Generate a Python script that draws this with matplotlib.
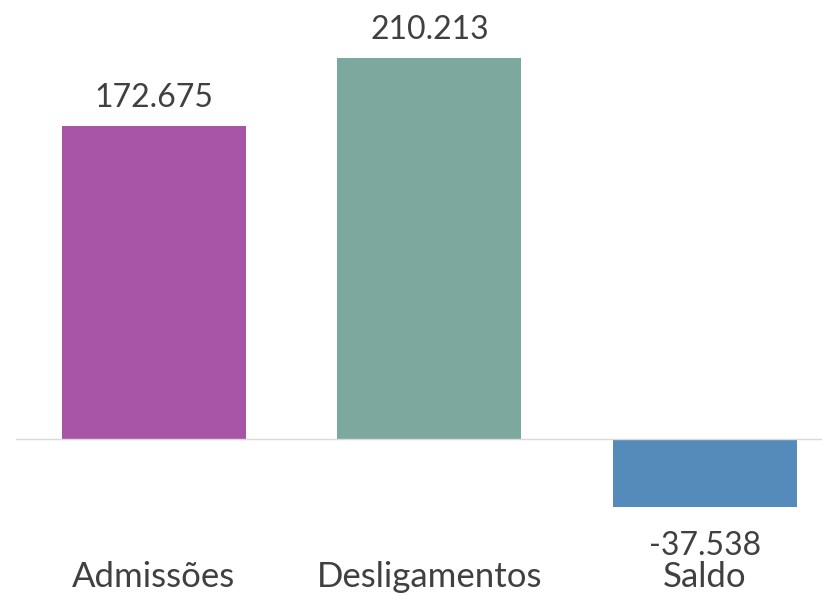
import matplotlib.pyplot as plt

categories = ["Admissões", "Desligamentos", "Saldo"]
values = [172675, 210213, -37538]
labels = ["172.675", "210.213", "-37.538"]
colors = ["#A855A8", "#7DA89D", "#548BBA"]

plt.rcParams['font.family'] = ['Lato', 'DejaVu Sans']

fig = plt.figure(figsize=(8.22, 5.95), dpi=100)
ax = fig.add_axes([16 / 822, 60 / 595, 806 / 822, 535 / 595])

x = range(len(categories))
bars = ax.bar(x, values, width=0.668, color=colors)

for bar, val, lab in zip(bars, values, labels):
    cx = bar.get_x() + bar.get_width() / 2
    if val >= 0:
        ax.annotate(lab, (cx, val), xytext=(0, 9), textcoords="offset points",
                    ha="center", va="bottom", fontsize=23, color="#404040")
    else:
        ax.annotate(lab, (cx, val), xytext=(0, -17), textcoords="offset points",
                    ha="center", va="top", fontsize=23, color="#404040")

ax.axhline(0, color="#D9D9D9", linewidth=1)
ax.set_xlim(-0.5, 2.425)
ax.set_ylim(-52900, 241900)
ax.set_xticks(list(x))
ax.set_xticklabels(categories, fontsize=25, color="#404040")
ax.tick_params(axis="x", length=0, pad=19)
ax.set_yticks([])
for s in ax.spines.values():
    s.set_visible(False)

fig.savefig("out.png", dpi=100)
